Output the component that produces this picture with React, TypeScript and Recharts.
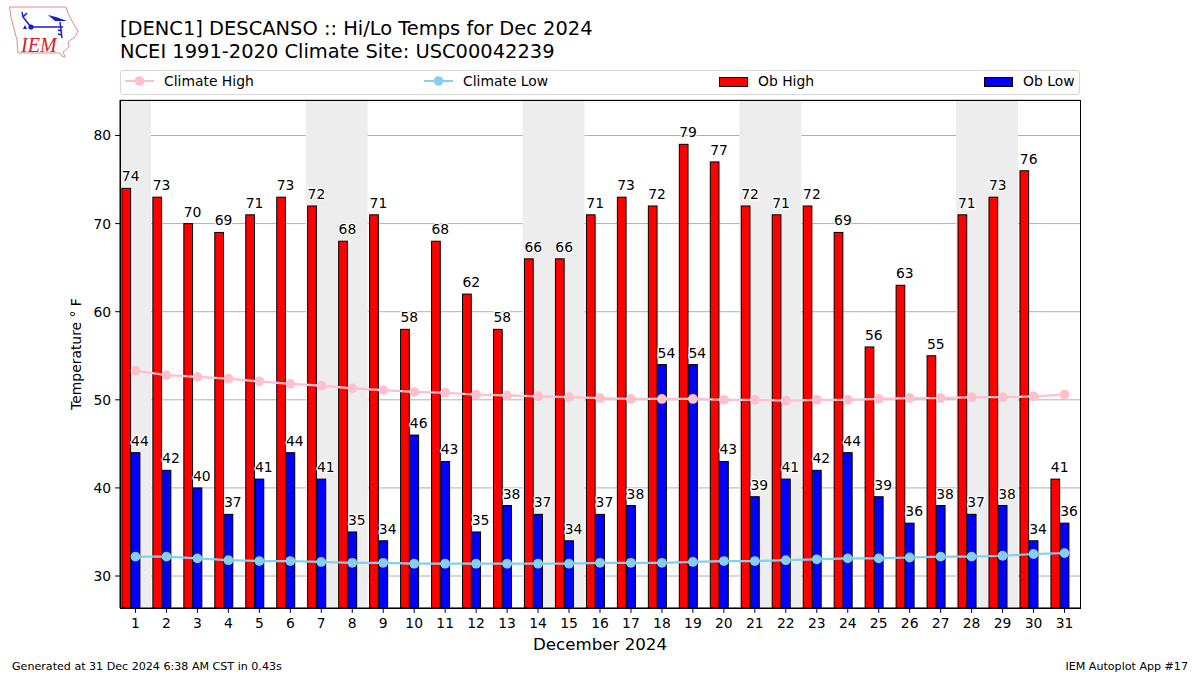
import React from 'react';
import {Bar, CartesianGrid, ComposedChart, Label, LabelList, Line, ReferenceArea, XAxis, YAxis} from 'recharts';

const days = [1, 2, 3, 4, 5, 6, 7, 8, 9, 10, 11, 12, 13, 14, 15, 16, 17, 18, 19, 20, 21, 22, 23, 24, 25, 26, 27, 28, 29, 30, 31];
const obHigh = [74, 73, 70, 69, 71, 73, 72, 68, 71, 58, 68, 62, 58, 66, 66, 71, 73, 72, 79, 77, 72, 71, 72, 69, 56, 63, 55, 71, 73, 76, 41];
const obLow = [44, 42, 40, 37, 41, 44, 41, 35, 34, 46, 43, 35, 38, 37, 34, 37, 38, 54, 54, 43, 39, 41, 42, 44, 39, 36, 38, 37, 38, 34, 36];
const climateHigh = [53.3, 52.8, 52.6, 52.4, 52.1, 51.8, 51.6, 51.3, 51.1, 50.9, 50.8, 50.6, 50.5, 50.4, 50.3, 50.2, 50.1, 50.1, 50.1, 50.0, 50.0, 49.9, 50.0, 50.0, 50.1, 50.2, 50.2, 50.3, 50.3, 50.4, 50.6];
const climateLow = [32.2, 32.2, 32.0, 31.8, 31.7, 31.7, 31.6, 31.5, 31.5, 31.4, 31.4, 31.4, 31.4, 31.4, 31.4, 31.5, 31.5, 31.5, 31.6, 31.7, 31.7, 31.8, 31.9, 32.0, 32.0, 32.1, 32.2, 32.2, 32.3, 32.5, 32.6];
const weekends = [[1, 1], [7, 8], [14, 15], [21, 22], [28, 29]];
const yTicks = [30, 40, 50, 60, 70, 80];

const font = '"DejaVu Sans", sans-serif';
const data = days.map((day, i) => ({
    day,
    obHigh: obHigh[i],
    obLow: obLow[i],
    climateHigh: climateHigh[i],
    climateLow: climateLow[i],
}));

// bars sit a little left of the tick, their labels do not
const ShiftedBar = (props: any) => (
    <rect x={props.x - 4.1} y={props.y} width={props.width - 0.6} height={props.height}
          fill={props.fill} stroke="#000" strokeWidth={1}/>
);

const legendItems = [
    {name: 'Climate High', color: 'pink', kind: 'line', handle: 125, text: 164},
    {name: 'Climate Low', color: 'skyblue', kind: 'line', handle: 424, text: 463},
    {name: 'Ob High', color: 'red', kind: 'bar', handle: 719, text: 758},
    {name: 'Ob Low', color: 'blue', kind: 'bar', handle: 984, text: 1023},
];

const ChartLegend = () => (
    <div style={{position: 'absolute', left: 120, top: 70, width: 958, height: 23, border: '1px solid #d8d8d8', borderRadius: 3, background: '#fff'}}>
        {legendItems.map(item => (
            <React.Fragment key={item.name}>
                <svg style={{position: 'absolute', left: item.handle - 121, top: 1}} width={30} height={20}>
                    {item.kind === 'line' ? (
                        <>
                            <line x1={0} x2={29} y1={9} y2={9} stroke={item.color} strokeWidth={2}/>
                            <circle cx={14.5} cy={9} r={4.8} fill={item.color}/>
                        </>
                    ) : (
                        <rect x={0.5} y={5.5} width={28} height={9} fill={item.color} stroke="#000"/>
                    )}
                </svg>
                <span style={{position: 'absolute', left: item.text - 121, top: 1, fontSize: 13.9, lineHeight: '18px', color: '#000', whiteSpace: 'nowrap'}}>
                    {item.name}
                </span>
            </React.Fragment>
        ))}
    </div>
);

const Logo = () => (
    <svg style={{position: 'absolute', left: 0, top: 0}} width={90} height={62}>
        <path d="M9.5 7 L66 7 L68 13 L73 23 L78 31 L75 37 L68 42 L69 47 L63 52 L65 57 L62 56 L60 53 L18 53 L17 40 L13 25 L11 17 Z"
              fill="none" stroke="#e58a8a" strokeWidth={1}/>
        <path d="M31 27 L63 27 M31 27 L23 17 L22 12 M23 17 L27 13 M60 22 L62 38 M62 31 L58 30 M62 35 L58 34"
              fill="none" stroke="#1a1ad0" strokeWidth={1.5}/>
        <path d="M48 15 L56 17 L67 21 L55 21 Z" fill="#1a1ad0"/>
        <path d="M23 29 L25 25 L27 29 Z" fill="#1a1ad0"/>
        <circle cx={31} cy={27} r={2.6} fill="#1a1ad0"/>
        <text x={21} y={52} fontFamily='"Liberation Serif", serif' fontStyle="italic" fontSize={20} fill="#d0202a">IEM</text>
    </svg>
);

export default function App() {
    const labelStyle = {fontSize: 13.9, fill: '#000', stroke: '#fff', strokeWidth: 2.5, paintOrder: 'stroke'} as any;
    return (
        <div style={{position: 'absolute', left: 0, top: 0, width: 1200, height: 675, background: '#fff', fontFamily: font, overflow: 'hidden'}}>
            <Logo/>
            <div style={{position: 'absolute', left: 120, top: 18, fontSize: 19.45, lineHeight: '22.5px', color: '#000', whiteSpace: 'nowrap'}}>
                [DENC1] DESCANSO :: Hi/Lo Temps for Dec 2024<br/>NCEI 1991-2020 Climate Site: USC00042239
            </div>
            <ChartLegend/>
            <ComposedChart width={1200} height={675} data={data} barSize={9.3} barGap={0}
                           margin={{top: 100, right: 120, bottom: 37, left: 70}} style={{fontFamily: font}}>
                {weekends.map(([from, to]) => (
                    <ReferenceArea key={from} x1={from} x2={to} fill="#ededed" fillOpacity={1} stroke="none"/>
                ))}
                <CartesianGrid vertical={false} stroke="#b0b0b0" strokeWidth={1}/>
                <XAxis dataKey="day" type="category" interval={0} height={30} stroke="#000" tickSize={4.9} tickMargin={5}
                       tick={{fontSize: 13.9, fill: '#000'}} tickLine={{stroke: '#000'}}>
                    <Label value="December 2024" position="bottom" offset={0} fontSize={16.67} fill="#000"/>
                </XAxis>
                <YAxis domain={[26.37, 84.03]} ticks={yTicks} width={50} stroke="#000" tickSize={4.9} tickMargin={4} allowDataOverflow
                       tick={{fontSize: 13.9, fill: '#000'}} tickLine={{stroke: '#000'}}>
                    <Label value="Temperature ° F" angle={-90} position="center" dx={-19} fontSize={13.9} fill="#000"/>
                </YAxis>
                <Bar dataKey="obHigh" name="Ob High" fill="red" shape={ShiftedBar} isAnimationActive={false}>
                    <LabelList dataKey="obHigh" position="top" offset={7} style={labelStyle}/>
                </Bar>
                <Bar dataKey="obLow" name="Ob Low" fill="blue" shape={ShiftedBar} isAnimationActive={false}>
                    <LabelList dataKey="obLow" position="top" offset={7} style={labelStyle}/>
                </Bar>
                <Line dataKey="climateHigh" name="Climate High" stroke="pink" strokeWidth={2.2} isAnimationActive={false}
                      dot={{r: 4.9, fill: 'pink', stroke: 'pink', strokeWidth: 0, fillOpacity: 1}}/>
                <Line dataKey="climateLow" name="Climate Low" stroke="skyblue" strokeWidth={2.2} isAnimationActive={false}
                      dot={{r: 4.9, fill: 'skyblue', stroke: 'skyblue', strokeWidth: 0, fillOpacity: 1}}/>
            </ComposedChart>
            <div style={{position: 'absolute', left: 120, top: 100, width: 959, height: 507, border: '1px solid #000', pointerEvents: 'none'}}/>
            <div style={{position: 'absolute', left: 12, top: 660, fontSize: 11.1, lineHeight: '13px', color: '#000'}}>
                Generated at 31 Dec 2024 6:38 AM CST in 0.43s
            </div>
            <div style={{position: 'absolute', right: 12, top: 660, fontSize: 11.1, lineHeight: '13px', color: '#000'}}>
                IEM Autoplot App #17
            </div>
        </div>
    );
}
